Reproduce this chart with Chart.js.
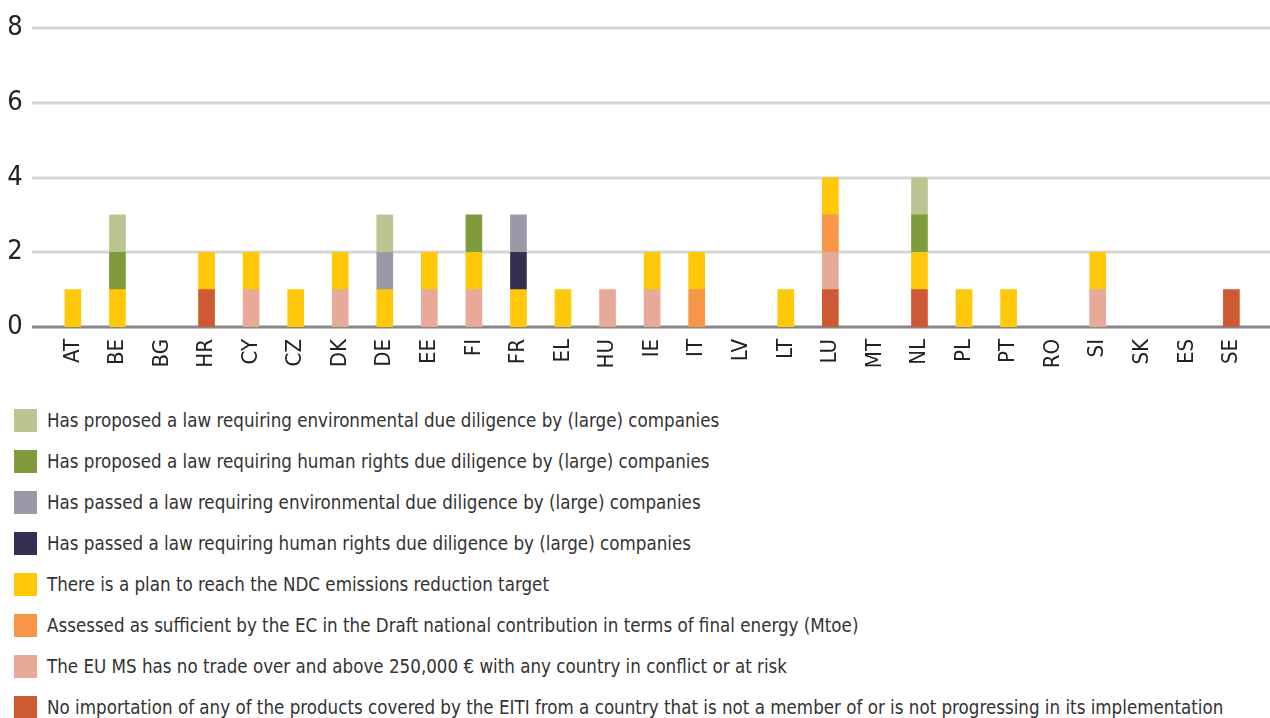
<!DOCTYPE html>
<html>
<head>
<meta charset="utf-8">
<script src="https://cdn.jsdelivr.net/npm/chart.js@4.4.1/dist/chart.umd.min.js"></script>
<style>
  html, body { margin: 0; padding: 0; background: #fff; overflow: hidden; width: 1270px; height: 718px; }
  #wrap { position: absolute; left: 0; top: 0; width: 1270px; height: 390px; }
  #legend { position: absolute; left: 14px; top: 409px; font-family: 'DejaVu Sans Condensed', sans-serif; font-size: 20px; color: #333; }
  .row { height: 41px; display: flex; align-items: flex-start; white-space: nowrap; }
  .box { width: 23px; height: 23px; margin-right: 10px; flex: none; }
  .row span { line-height: 23px; display: inline-block; transform: scaleX(0.93); transform-origin: 0 50%; }
</style>
</head>
<body>
<div id="wrap"><canvas id="myChart"></canvas></div>
<div id="legend"></div>
<script>
const countries = ['AT', 'BE', 'BG', 'HR', 'CY', 'CZ', 'DK', 'DE', 'EE', 'FI', 'FR', 'EL', 'HU', 'IE',
    'IT', 'LV', 'LT', 'LU', 'MT', 'NL', 'PL', 'PT', 'RO', 'SI', 'SK', 'ES', 'SE'];

// one array per criterion, bottom of the stack first
const eiti        = [0,0,0,1,0,0,0,0,0,0,0,0,0,0,0,0,0,1,0,1,0,0,0,0,0,0,1];
const noTrade     = [0,0,0,0,1,0,1,0,1,1,0,0,1,1,0,0,0,1,0,0,0,0,0,1,0,0,0];
const energy      = [0,0,0,0,0,0,0,0,0,0,0,0,0,0,1,0,0,1,0,0,0,0,0,0,0,0,0];
const ndcPlan     = [1,1,0,1,1,1,1,1,1,1,1,1,0,1,1,0,1,1,0,1,1,1,0,1,0,0,0];
const passedHR    = [0,0,0,0,0,0,0,0,0,0,1,0,0,0,0,0,0,0,0,0,0,0,0,0,0,0,0];
const passedEnv   = [0,0,0,0,0,0,0,1,0,0,1,0,0,0,0,0,0,0,0,0,0,0,0,0,0,0,0];
const proposedHR  = [0,1,0,0,0,0,0,0,0,1,0,0,0,0,0,0,0,0,0,1,0,0,0,0,0,0,0];
const proposedEnv = [0,1,0,0,0,0,0,1,0,0,0,0,0,0,0,0,0,0,0,1,0,0,0,0,0,0,0];

const yTicks = [0, 2, 4, 6, 8];

const fontFamily = "'DejaVu Sans Condensed', sans-serif";

// zero means no segment, so hand chart.js null instead
const seg = arr => arr.map(v => v || null);

const datasets = [
    { label: 'No importation of any of the products covered by the EITI from a country that is not a member of or is not progressing in its implementation', data: seg(eiti), backgroundColor: '#CD5A32' },
    { label: 'The EU MS has no trade over and above 250,000 € with any country in conflict or at risk', data: seg(noTrade), backgroundColor: '#E8AA98' },
    { label: 'Assessed as sufficient by the EC in the Draft national contribution in terms of final energy (Mtoe)', data: seg(energy), backgroundColor: '#F79646' },
    { label: 'There is a plan to reach the NDC emissions reduction target', data: seg(ndcPlan), backgroundColor: '#FFC809' },
    { label: 'Has passed a law requiring human rights due diligence by (large) companies', data: seg(passedHR), backgroundColor: '#352F52' },
    { label: 'Has passed a law requiring environmental due diligence by (large) companies', data: seg(passedEnv), backgroundColor: '#9B98A8' },
    { label: 'Has proposed a law requiring human rights due diligence by (large) companies', data: seg(proposedHR), backgroundColor: '#7F9B3B' },
    { label: 'Has proposed a law requiring environmental due diligence by (large) companies', data: seg(proposedEnv), backgroundColor: '#BBC592' }
];

// grid lines run past the category area, so draw them by hand off the y scale
const gridPlugin = {
    id: 'wideGrid',
    beforeDatasetsDraw(chart) {
        const ctx = chart.ctx;
        const y = chart.scales.y;
        ctx.save();
        yTicks.forEach(v => {
            const py = Math.round(y.getPixelForValue(v));
            ctx.beginPath();
            ctx.strokeStyle = v === 0 ? '#88888c' : '#d6d6d6';
            ctx.lineWidth = 3;
            ctx.moveTo(32, py);
            ctx.lineTo(1270, py);
            ctx.stroke();
        });
        ctx.restore();
    }
};

const config = {
    type: 'bar',
    data: { labels: countries, datasets: datasets },
    plugins: [gridPlugin],
    options: {
        responsive: true,
        maintainAspectRatio: false,
        animation: false,
        layout: { padding: { top: 28, right: 12.4, left: 0, bottom: 0 } },
        plugins: { legend: { display: false }, tooltip: { enabled: false } },
        datasets: { bar: { barThickness: 16, borderWidth: 0 } },
        scales: {
            x: {
                stacked: true,
                grid: { display: false, drawTicks: false },
                border: { display: false },
                ticks: {
                    minRotation: 90, maxRotation: 90, autoSkip: false, padding: 12,
                    color: '#222', font: { family: fontFamily, size: 22 }
                },
                afterFit(scale) { scale.height = 63; }
            },
            y: {
                stacked: true,
                min: 0, max: 8,
                grid: { display: false, drawTicks: false },
                border: { display: false },
                afterBuildTicks(scale) { scale.ticks = yTicks.map(v => ({ value: v })); },
                ticks: { padding: 28, color: '#222', font: { family: fontFamily, size: 27 } },
                afterFit(scale) {
                    scale.width = 50.6;
                    scale.paddingTop = 0;
                    scale.paddingBottom = 0;
                }
            }
        }
    }
};

const myChart = new Chart(document.getElementById('myChart'), config);

// legend is top layer first
const legend = document.getElementById('legend');
datasets.slice().reverse().forEach(d => {
    const row = document.createElement('div');
    row.className = 'row';
    const box = document.createElement('div');
    box.className = 'box';
    box.style.background = d.backgroundColor;
    const txt = document.createElement('span');
    txt.textContent = d.label;
    row.appendChild(box);
    row.appendChild(txt);
    legend.appendChild(row);
});
</script>
</body>
</html>
